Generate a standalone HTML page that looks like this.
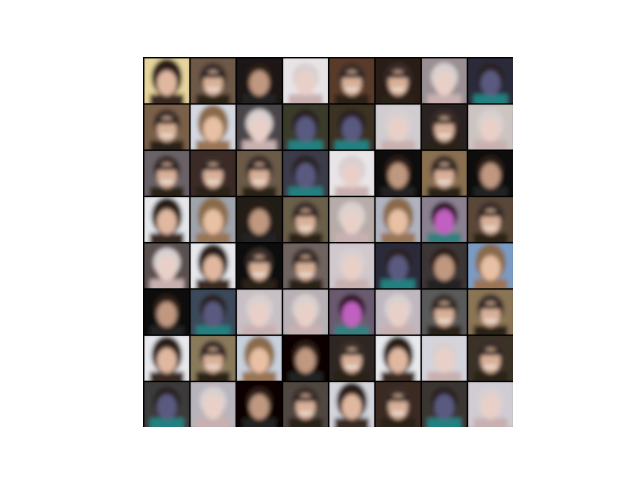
<!DOCTYPE html>
<html><head><meta charset="utf-8"><style>
html,body{margin:0;padding:0;background:#fff;width:640px;height:480px;overflow:hidden}
svg{display:block}
</style></head><body>
<svg id="chart" width="640" height="480" viewBox="0 0 640 480">
<defs>
<filter id="blur" x="-10%" y="-10%" width="120%" height="120%"><feGaussianBlur stdDeviation="2.2"/></filter>
<clipPath id="gclip"><rect x="143" y="57" width="370" height="370"/></clipPath>
</defs>
<rect x="143" y="57" width="370" height="370" fill="#000"/>
<g id="cells" clip-path="url(#gclip)"></g>
</svg>
<script>
const rows = [
 ["W","A","M","G","A","A","G","C"],
 ["A","B","G","C","C","G","A","G"],
 ["A","A","A","C","G","M","A","M"],
 ["W","B","M","A","G","B","P","A"],
 ["G","W","A","A","G","C","M","B"],
 ["M","C","G","G","P","G","A","A"],
 ["W","A","B","M","A","W","G","A"],
 ["C","G","M","A","W","A","C","G"]
];
const bgs = [
 ["#e6d49c","#6e5846","#1e1816","#e8e4e6","#5a3a2c","#2a1a14","#9a9094","#2a2a3a"],
 ["#7a6048","#d4d8e0","#4a4448","#3a3a2a","#3a3020","#d0ccd0","#2a2420","#ccc4c0"],
 ["#6a6266","#3a2a26","#6a5a46","#3a3a4a","#e8e4e8","#0e0808","#8a7050","#0a0808"],
 ["#e4e6ea","#a0a4ac","#201a18","#6a5e48","#b8aca8","#b0b4c0","#8a8090","#5a4638"],
 ["#5a5050","#e8e8ec","#0c0808","#706460","#d0c8cc","#2a2a3a","#3a3434","#7a9cc4"],
 ["#0c0808","#3a4a5a","#c8c0c4","#b8b0b4","#6a5a70","#c0b8c0","#5a5a5a","#8a7454"],
 ["#e8e8ec","#8a7a5c","#c8d0dc","#0a0606","#2e2624","#e8eaee","#d4d4dc","#3a3028"],
 ["#3a3a3a","#b8b4bc","#0a0606","#504640","#d4d4dc","#3a2a24","#3a3432","#d0ccd4"]
];
const hairs = {W:"#2a1a14",A:"#3a2e2a",M:"#2a1c16",G:"#d8d0d0",C:"#2a2020",B:"#8a6a48",P:"#301828"};
const faces = {W:"#e0b8a0",A:"#d8b098",M:"#c09880",G:"#e8d0c8",C:"#5a5a80",B:"#e8c0a4",P:"#c060c0"};
const shirts = {W:"#3a2a20",A:"#2a2018",M:"#202020",G:"#c8b0b0",C:"#208080",B:"#9a7454",P:"#308080"};
const x0=143, y0=57, pitch=370/8, pad=1.4;
const g=document.getElementById('cells');
const NS="http://www.w3.org/2000/svg";
function mk(t,a){const e=document.createElementNS(NS,t);for(const k in a)e.setAttribute(k,a[k]);return e;}
rows.forEach((row,r)=>row.forEach((type,c)=>{
  const x=x0+pad+c*pitch, y=y0+pad+r*pitch, s=pitch-pad;
  const cell=mk('g',{});
  
  
  const inner=mk('g',{filter:'url(#blur)'});
  const cp=mk('clipPath',{id:'cp'+r+c});cp.appendChild(mk('rect',{x:x,y:y,width:s,height:s}));
  cell.appendChild(cp);
  inner.setAttribute('clip-path','url(#cp'+r+c+')');
  inner.appendChild(mk('rect',{x:x-3,y:y-3,width:s+6,height:s+6,fill:bgs[r][c]}));
  inner.appendChild(mk('rect',{x:x+s*0.12,y:y+s*0.8,width:s*0.76,height:s*0.3,fill:shirts[type]}));
  inner.appendChild(mk('ellipse',{cx:x+s/2,cy:y+s*0.42,rx:s*(type==='B'||type==='W'?0.34:0.3),ry:s*(type==='B'||type==='W'?0.42:0.32),fill:hairs[type]}));
  inner.appendChild(mk('ellipse',{cx:x+s/2,cy:y+s*0.55,rx:s*0.22,ry:s*0.28,fill:faces[type]}));
  if(type==='A'){inner.appendChild(mk('rect',{x:x+s*0.26,y:y+s*0.33,width:s*0.48,height:s*0.1,fill:'#1a1414'}));
    inner.appendChild(mk('rect',{x:x+s*0.36,y:y+s*0.66,width:s*0.28,height:s*0.06,fill:'#f0e8e0'}));}
  cell.appendChild(inner);
  g.appendChild(cell);
}));
</script>
</body></html>
